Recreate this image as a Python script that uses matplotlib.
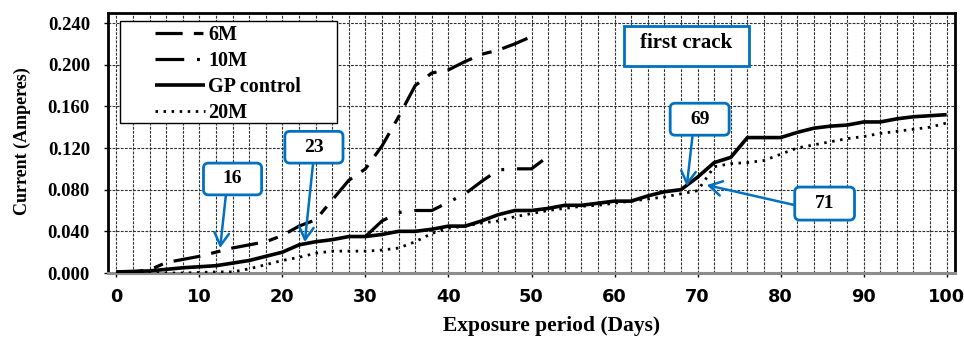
import matplotlib
matplotlib.use("Agg")
import matplotlib.pyplot as plt
from matplotlib.ticker import MultipleLocator, FormatStrFormatter
from matplotlib.patches import FancyBboxPatch, Rectangle

# ---------------- data ----------------
days_6m = [0, 2, 4, 6, 8, 10, 12, 14, 16, 18, 20, 22, 24, 26, 28, 30, 32, 34, 36, 38, 40, 42, 44, 46, 48, 50]
cur_6m = [0.001, 0.001, 0.003, 0.010, 0.013, 0.016, 0.020, 0.024, 0.027, 0.030, 0.036, 0.045, 0.051,
          0.070, 0.089, 0.100, 0.122, 0.150, 0.180, 0.192, 0.195, 0.203, 0.210, 0.214, 0.220, 0.227]

days_10m = [30, 32, 34, 36, 38, 40, 42, 44, 46, 48, 50, 52]
cur_10m = [0.035, 0.050, 0.058, 0.060, 0.060, 0.068, 0.076, 0.088, 0.099, 0.100, 0.100, 0.112]

days_gp = [0, 4, 8, 12, 16, 20, 22, 24, 26, 28, 30, 32, 34, 36, 38, 40, 42, 44, 46, 48, 50, 52, 54, 56,
           58, 60, 62, 64, 66, 68, 70, 72, 74, 76, 78, 80, 82, 84, 86, 88, 90, 92, 94, 96, 98, 100]
cur_gp = [0.001, 0.002, 0.005, 0.007, 0.012, 0.020, 0.027, 0.030, 0.032, 0.035, 0.035, 0.037, 0.040,
          0.040, 0.042, 0.045, 0.045, 0.050, 0.056, 0.060, 0.060, 0.062, 0.065, 0.065, 0.067, 0.069,
          0.069, 0.074, 0.078, 0.080, 0.092, 0.106, 0.111, 0.130, 0.130, 0.130, 0.135, 0.139, 0.141,
          0.142, 0.145, 0.145, 0.148, 0.150, 0.151, 0.152]

days_20m = [0, 4, 8, 12, 14, 16, 18, 20, 22, 24, 26, 28, 30, 32, 34, 36, 38, 40, 42, 44, 46, 48, 50, 52,
            54, 56, 58, 60, 62, 64, 66, 68, 70, 72, 74, 76, 78, 80, 82, 84, 86, 88, 90, 92, 94, 96, 98, 100]
cur_20m = [0.000, 0.000, 0.000, 0.001, 0.001, 0.004, 0.008, 0.012, 0.015, 0.019, 0.021, 0.021, 0.021,
           0.022, 0.024, 0.030, 0.038, 0.043, 0.045, 0.048, 0.050, 0.054, 0.057, 0.060, 0.062, 0.064,
           0.065, 0.067, 0.069, 0.071, 0.073, 0.076, 0.079, 0.102, 0.105, 0.106, 0.108, 0.114, 0.120,
           0.123, 0.126, 0.129, 0.131, 0.134, 0.136, 0.138, 0.140, 0.144]

series_labels = ["6M", "10M", "GP control", "20M"]

# annotations: label, box (x0, x1, y0, y1) in data, arrow start, arrow tip
callouts = [
    ("16", (10.5, 17.5, 0.075, 0.1055), (13.2, 0.075), (12.5, 0.024)),
    ("23", (20.3, 27.3, 0.1055, 0.136), (23.7, 0.1055), (22.7, 0.0297)),
    ("69", (66.7, 73.8, 0.1323, 0.163), (69.4, 0.1323), (68.7, 0.0834)),
    ("71", (81.7, 88.9, 0.0508, 0.0825), (81.7, 0.0652), (71.1, 0.0844)),
]
crack_label = "first crack"
crack_box = (61.1, 76.2, 0.1985, 0.237)

BLUE = "#0070C0"
SERIF = ["Liberation Serif", "DejaVu Serif"]

W, H = 964, 340
fig = plt.figure(figsize=(W / 100, H / 100), dpi=100)
L, R, T, B = 108, 955, 13, 273
ax = fig.add_axes([L / W, 1 - B / H, (R - L) / W, (B - T) / H])

xmin, xmax, ymin, ymax = -1, 101, 0.0, 0.2496
ax.set_xlim(xmin, xmax)
ax.set_ylim(ymin, ymax)

ax.plot(days_6m, cur_6m, color="black", lw=2.3, dashes=(8.5, 3.5, 3, 3.5), label=series_labels[0], zorder=3)
ax.plot(days_10m, cur_10m, color="black", lw=2.3, dashes=(9, 4, 0.9, 4), label=series_labels[1], zorder=3)
ax.plot(days_gp, cur_gp, color="black", lw=2.6, solid_capstyle="butt", label=series_labels[2], zorder=3)
ax.plot(days_20m, cur_20m, color="black", lw=2.0, dashes=(0.9, 2.0), label=series_labels[3], zorder=3)

# axes, ticks, grid
ax.xaxis.set_major_locator(MultipleLocator(10))
ax.xaxis.set_minor_locator(MultipleLocator(2))
ax.yaxis.set_major_locator(MultipleLocator(0.04))
ax.yaxis.set_major_formatter(FormatStrFormatter("%.3f"))
ax.set_axisbelow(True)
ax.grid(True, which="both", axis="x", color="#303030", lw=0.8, linestyle=(0, (2.5, 1.2)))
ax.grid(True, which="major", axis="y", color="#303030", lw=0.8, linestyle=(0, (2.5, 1.2)))

ax.tick_params(axis="y", which="major", direction="out", length=3, width=1, pad=10)
ax.tick_params(axis="x", which="major", direction="out", length=3, width=1, pad=8)
ax.tick_params(axis="x", which="minor", length=0)
for lab in ax.get_yticklabels():
    lab.set_fontfamily(SERIF)
    lab.set_fontweight("bold")
    lab.set_fontsize(13.5)
for lab in ax.get_xticklabels():
    lab.set_fontfamily("DejaVu Sans")
    lab.set_fontweight("bold")
    lab.set_fontsize(12.8)

for side in ["left", "top", "right"]:
    ax.spines[side].set_color("black")
    ax.spines[side].set_linewidth(2.0)
ax.spines["bottom"].set_color("#8c8c8c")
ax.spines["bottom"].set_linewidth(2.2)

fig.text(552 / W, 1 - 326 / H, "Exposure period (Days)", ha="center", va="center",
         fontfamily=SERIF, fontweight="bold", fontsize=15.5)
fig.text(22 / W, 1 - 141 / H, "Current (Amperes)", ha="center", va="center", rotation=90,
         fontfamily=SERIF, fontweight="bold", fontsize=13)

# legend (manual frame drawn inside the axes, below the legend)
frame = Rectangle((120 / W, 1 - 123 / H), (337 - 120) / W, (123 - 21) / H,
                  transform=fig.transFigure, fc="white", ec="black", lw=1.0, zorder=5)
ax.add_patch(frame)
leg = ax.legend(loc="upper left", bbox_to_anchor=(155 / W, 1 - 25 / H), bbox_transform=fig.transFigure,
                frameon=False, borderpad=0, borderaxespad=0, handlelength=2.5, handletextpad=0.15,
                labelspacing=0.3, prop=dict(family=SERIF, weight="bold", size=14.5))
leg.set_zorder(6)

# callouts
ax_w_px, ax_h_px = R - L, B - T
aspect = ((ymax - ymin) / ax_h_px) / ((xmax - xmin) / ax_w_px)
px_x = (xmax - xmin) / ax_w_px

for text, (x0, x1, y0, y1), start, tip in callouts:
    ax.annotate("", xy=tip, xytext=start,
                arrowprops=dict(arrowstyle="->,head_length=0.6,head_width=0.35", color=BLUE, lw=1.8,
                                shrinkA=0, shrinkB=0, mutation_scale=15), zorder=7)
    box = FancyBboxPatch((x0, y0), x1 - x0, y1 - y0,
                         boxstyle="round,pad=0,rounding_size=%f" % (5 * px_x),
                         mutation_aspect=aspect, fc="white", ec=BLUE, lw=2.0, zorder=8)
    ax.add_patch(box)
    ax.text((x0 + x1) / 2, (y0 + y1) / 2, text, ha="center", va="center", fontfamily=SERIF,
            fontweight="bold", fontsize=14, zorder=9)

cx0, cx1, cy0, cy1 = crack_box
ax.add_patch(Rectangle((cx0, cy0), cx1 - cx0, cy1 - cy0, fc="white", ec=BLUE, lw=2.0, zorder=8))
ax.text((cx0 + cx1) / 2, 0.2206, crack_label, ha="center", va="center", fontfamily=SERIF,
        fontweight="bold", fontsize=15, zorder=9)

fig.savefig("out.png", dpi=100)
